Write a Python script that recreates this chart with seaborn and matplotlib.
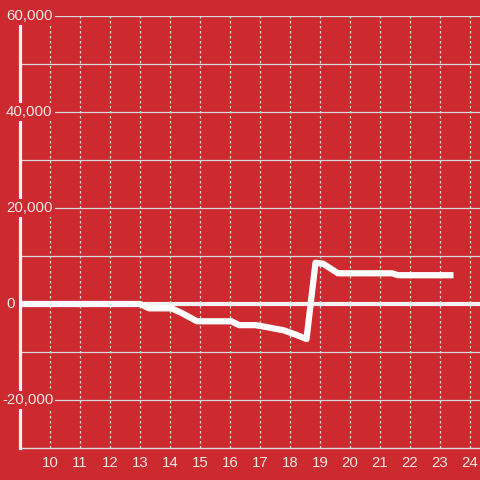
import matplotlib
matplotlib.use("Agg")
import pandas as pd
from matplotlib import pyplot as plt
from matplotlib import transforms
import seaborn as sb

# values
hours = [9.0, 13.0, 13.3, 14.05, 14.4, 14.9, 16.05, 16.3, 16.85, 17.3, 17.8, 18.2, 18.55, 18.85, 19.1, 19.6, 21.4, 21.6, 23.45]
values = [0, 0, -900, -900, -1900, -3600, -3600, -4400, -4400, -4900, -5500, -6400, -7300, 8600, 8400, 6400, 6400, 6000, 6000]
x_ticks = list(range(10, 25))
y_ticks = [-20000, 0, 20000, 40000, 60000]
y_labels = ["-20,000", "0", "20,000", "40,000", "60,000"]

bg = "#cc2a2f"
fg = "#f3e6e6"
grid_col = "#d9d9d9"

df = pd.DataFrame({"hour": hours, "value": values})

sb.set_theme(style="white")
plt.rcParams["font.family"] = ["Liberation Sans", "DejaVu Sans"]

fig = plt.figure(figsize=(4.8, 4.8), dpi=100, facecolor=bg)
ax = fig.add_axes([20 / 480, 32 / 480, 460 / 480, 432 / 480])
ax.set_facecolor(bg)

ax.set_xlim(9, 9 + 460 / 30)
ax.set_ylim(-30000, 60000)

# grid: solid horizontals every 10k, dotted verticals every hour
for yv in range(-20000, 60001, 10000):
    if yv == 0:
        continue
    ax.axhline(yv, color=grid_col, lw=0.9, zorder=1)
for xv in x_ticks:
    ax.axvline(xv, color=grid_col, lw=0.9, ls=(0, (2, 2)), zorder=1)
ax.axhline(0, color="#f2f2f2", lw=3, zorder=2)

sb.lineplot(data=df, x="hour", y="value", ax=ax, color="white", lw=4.5,
            zorder=3, solid_joinstyle="round", solid_capstyle="butt")

for s in ["top", "right"]:
    ax.spines[s].set_visible(False)
ax.spines["left"].set_color("#f5f5f5")
ax.spines["left"].set_linewidth(2.3)
ax.spines["left"].set_zorder(4)
ax.spines["bottom"].set_color(grid_col)
ax.spines["bottom"].set_linewidth(1)

ax.set_xticks(x_ticks)
ax.set_xticklabels([str(t) for t in x_ticks])
ax.tick_params(axis="x", length=0, pad=6, labelsize=10.8, colors=fg)
ax.set_yticks([])
ax.set_xlabel("")
ax.set_ylabel("")

# y labels sit on top of the axis with a red box behind them
trans = transforms.blended_transform_factory(fig.transFigure, ax.transData)
for yv, lab in zip(y_ticks, y_labels):
    xpos = 2 / 480 if lab.startswith("-") else 6 / 480
    ax.text(xpos, yv, lab, transform=trans, ha="left", va="center",
            fontsize=10.8, color=fg, zorder=10, clip_on=False,
            bbox=dict(facecolor=bg, edgecolor="none", pad=1.5))

plt.savefig("out.png", dpi=100, facecolor=bg)
